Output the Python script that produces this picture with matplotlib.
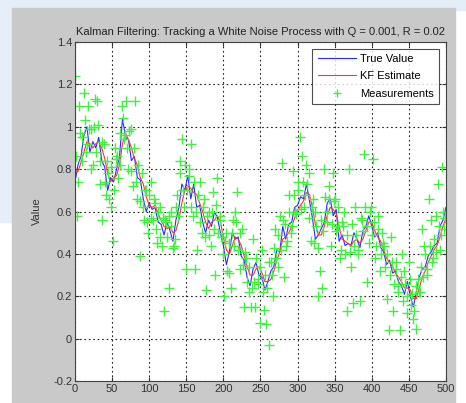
import numpy as np
import matplotlib.pyplot as plt
from matplotlib.patches import Rectangle

plt.rcParams['font.family'] = ['Liberation Sans', 'DejaVu Sans']

# sample index for the two lines (every 4th step)
steps = np.arange(0, 501, 4)

true_value = [0.74, 0.82, 0.86, 0.96, 1.00, 0.88, 0.93, 0.90, 0.95, 0.84,
              0.81, 0.70, 0.76, 0.74, 0.80, 0.86, 1.04, 0.95, 0.94, 0.84,
              0.86, 0.76, 0.75, 0.66, 0.60, 0.64, 0.61, 0.62, 0.55, 0.54,
              0.49, 0.55, 0.51, 0.46, 0.56, 0.62, 0.73, 0.70, 0.77, 0.66,
              0.73, 0.62, 0.63, 0.55, 0.50, 0.56, 0.53, 0.60, 0.57, 0.50,
              0.44, 0.35, 0.41, 0.50, 0.47, 0.48, 0.39, 0.37, 0.29, 0.25,
              0.33, 0.36, 0.30, 0.29, 0.23, 0.27, 0.32, 0.34, 0.42, 0.41,
              0.53, 0.47, 0.54, 0.55, 0.62, 0.63, 0.67, 0.66, 0.73, 0.65,
              0.57, 0.47, 0.49, 0.52, 0.55, 0.64, 0.66, 0.58, 0.61, 0.46,
              0.49, 0.44, 0.45, 0.44, 0.50, 0.47, 0.43, 0.51, 0.53, 0.58,
              0.53, 0.48, 0.50, 0.43, 0.41, 0.35, 0.37, 0.31, 0.32, 0.27,
              0.25, 0.21, 0.27, 0.20, 0.15, 0.22, 0.29, 0.33, 0.34, 0.39,
              0.41, 0.44, 0.45, 0.53, 0.56, 0.62]

kf_estimate = [0.78, 0.79, 0.83, 0.88, 0.93, 0.92, 0.90, 0.92, 0.93, 0.90,
               0.85, 0.78, 0.74, 0.76, 0.77, 0.82, 0.92, 0.97, 0.94, 0.90,
               0.85, 0.82, 0.76, 0.73, 0.67, 0.63, 0.62, 0.63, 0.59, 0.56,
               0.53, 0.52, 0.53, 0.50, 0.51, 0.56, 0.64, 0.70, 0.72, 0.71,
               0.69, 0.68, 0.64, 0.60, 0.55, 0.52, 0.55, 0.56, 0.58, 0.55,
               0.48, 0.42, 0.40, 0.44, 0.48, 0.47, 0.44, 0.39, 0.34, 0.30,
               0.30, 0.33, 0.34, 0.31, 0.27, 0.27, 0.28, 0.32, 0.37, 0.41,
               0.47, 0.48, 0.50, 0.53, 0.57, 0.60, 0.63, 0.65, 0.69, 0.68,
               0.62, 0.54, 0.49, 0.49, 0.53, 0.58, 0.62, 0.61, 0.59, 0.53,
               0.47, 0.46, 0.45, 0.44, 0.46, 0.47, 0.45, 0.47, 0.51, 0.55,
               0.55, 0.51, 0.48, 0.46, 0.42, 0.38, 0.36, 0.34, 0.31, 0.29,
               0.27, 0.24, 0.24, 0.23, 0.19, 0.19, 0.24, 0.29, 0.32, 0.36,
               0.39, 0.42, 0.44, 0.48, 0.53, 0.57]

# noisy measurements, two interleaved runs of every 3rd step
meas_x = np.arange(0, 499, 3)
meas_y = [1.24, 0.58, 1.10, 0.95, 1.16, 0.88, 1.10, 0.99, 0.82, 1.13,
          1.12, 0.73, 0.56, 0.92, 0.68, 0.78, 0.62, 0.46, 0.90, 0.86,
          0.97, 1.10, 0.94, 1.12, 0.80, 0.99, 0.72, 1.12, 0.66, 0.39,
          0.78, 0.56, 0.70, 0.50, 0.74, 0.56, 0.64, 0.45, 0.62, 0.44,
          0.13, 0.55, 0.24, 0.60, 0.43, 0.47, 0.68, 0.84, 0.94, 0.62,
          0.33, 0.80, 0.92, 0.58, 0.33, 0.42, 0.74, 0.50, 0.66, 0.23,
          0.60, 0.44, 0.69, 0.30, 0.76, 0.58, 0.48, 0.20, 0.50, 0.31,
          0.24, 0.56, 0.60, 0.69, 0.33, 0.52, 0.15, 0.38, 0.22, 0.15,
          0.47, 0.15, 0.26, 0.075, 0.42, 0.135, 0.07, -0.03, 0.36, 0.20,
          0.52, 0.34, 0.58, 0.83, 0.29, 0.44, 0.68, 0.50, 0.79, 0.60,
          0.74, 0.95, 0.86, 0.62, 0.82, 0.78, 0.46, 0.66, 0.60, 0.20,
          0.32, 0.24, 0.80, 0.55, 0.72, 0.44, 0.78, 0.66, 0.62, 0.38,
          0.55, 0.60, 0.13, 0.80, 0.34, 0.17, 0.62, 0.40, 0.18, 0.56,
          0.87, 0.27, 0.45, 0.62, 0.85, 0.38, 0.58, 0.32, 0.50, 0.44,
          0.19, 0.04, 0.48, 0.13, 0.36, 0.25, 0.04, 0.40, 0.32, 0.12,
          0.36, 0.16, 0.095, 0.045, 0.28, 0.22, 0.52, 0.44, 0.30, 0.66,
          0.56, 0.38, 0.58, 0.73, 0.42, 0.81, 0.52]

meas2_x = np.arange(1, 500, 3)
meas2_y = [0.86, 0.74, 0.97, 0.84, 1.03, 0.92, 0.99, 0.80, 1.00, 0.88,
           1.01, 0.84, 0.93, 0.74, 0.84, 0.66, 0.81, 0.70, 0.85, 0.76,
           0.82, 1.04, 0.96, 0.90, 0.98, 0.79, 0.90, 0.74, 0.82, 0.65,
           0.62, 0.70, 0.55, 0.68, 0.57, 0.66, 0.52, 0.60, 0.48, 0.57,
           0.56, 0.48, 0.58, 0.53, 0.44, 0.62, 0.58, 0.78, 0.70, 0.82,
           0.70, 0.77, 0.62, 0.74, 0.60, 0.68, 0.55, 0.62, 0.48, 0.58,
           0.49, 0.60, 0.52, 0.63, 0.50, 0.56, 0.40, 0.46, 0.32, 0.45,
           0.50, 0.44, 0.55, 0.42, 0.50, 0.35, 0.41, 0.27, 0.34, 0.24,
           0.27, 0.38, 0.28, 0.34, 0.22, 0.30, 0.24, 0.36, 0.30, 0.43,
           0.38, 0.49, 0.42, 0.56, 0.54, 0.46, 0.60, 0.53, 0.68, 0.59,
           0.70, 0.61, 0.74, 0.68, 0.73, 0.57, 0.62, 0.45, 0.53, 0.43,
           0.56, 0.51, 0.67, 0.60, 0.66, 0.54, 0.65, 0.51, 0.53, 0.42,
           0.53, 0.40, 0.49, 0.41, 0.54, 0.44, 0.49, 0.42, 0.57, 0.51,
           0.62, 0.53, 0.60, 0.49, 0.55, 0.44, 0.52, 0.40, 0.45, 0.34,
           0.40, 0.30, 0.36, 0.26, 0.33, 0.22, 0.29, 0.18, 0.26, 0.20,
           0.28, 0.21, 0.13, 0.25, 0.22, 0.34, 0.29, 0.40, 0.33, 0.44,
           0.36, 0.47, 0.41, 0.53, 0.49, 0.60, 0.57]

xticks = [0, 50, 100, 150, 200, 250, 300, 350, 400, 450, 500]
yticks = [-0.2, 0, 0.2, 0.4, 0.6, 0.8, 1, 1.2, 1.4]
ytick_labels = ['-0.2', '0', '0.2', '0.4', '0.6', '0.8', '1', '1.2', '1.4']

all_mx = np.concatenate([meas_x, meas2_x])
all_my = np.concatenate([meas_y, meas2_y])

fig = plt.figure(figsize=(4.66, 4.03), dpi=100)
fig.patch.set_facecolor('white')

# faint watermark-ish background and the grey matlab panel
fig.patches.append(Rectangle((0, 0.975), 1, 0.025, transform=fig.transFigure,
                             color='#e4eef9', zorder=0))
fig.patches.append(Rectangle((0, 0.45), 0.03, 0.55, transform=fig.transFigure,
                             color='#e6eef8', zorder=0))
fig.patches.append(Rectangle((0.026, 0), 0.951, 0.98, transform=fig.transFigure,
                             color='#c9c9c9', zorder=1))

ax = fig.add_axes([0.161, 0.054, 0.796, 0.842])
ax.set_zorder(2)

ax.plot(steps, true_value, color='#2a2aff', lw=0.8, label='True Value')
ax.plot(steps, kf_estimate, color='#ff3333', lw=0.8, label='KF Estimate')
ax.plot(all_mx, all_my, '+', color='#44ee44', ms=6.5, mew=1.0, label='Measurements')

ax.set_xlim(0, 500)
ax.set_ylim(-0.2, 1.4)
ax.set_xticks(xticks)
ax.set_yticks(yticks)
ax.set_yticklabels(ytick_labels)
ax.tick_params(direction='in', length=3, labelsize=8, colors='#333333',
               top=True, right=True, pad=2)
ax.grid(True, linestyle=(0, (1.5, 2.5)), color='#222222', lw=0.8)
for s in ax.spines.values():
    s.set_color('#444444')
    s.set_linewidth(0.8)

ax.set_title('Kalman Filtering: Tracking a White Noise Process with Q = 0.001, R = 0.02',
             fontsize=8, color='#222222', pad=5)
ax.set_ylabel('Value', fontsize=8, color='#333333', labelpad=8)

leg = ax.legend(loc='upper right', fontsize=8, frameon=True, fancybox=False,
                borderaxespad=0.6, handlelength=3.4, labelspacing=0.65,
                handletextpad=0.4, borderpad=0.5, markerscale=0.8)
leg.get_frame().set_edgecolor('#222222')
leg.get_frame().set_linewidth(0.8)

fig.savefig('out.png', dpi=100, facecolor=fig.get_facecolor())
